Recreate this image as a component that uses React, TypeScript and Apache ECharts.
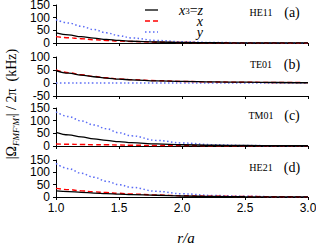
import React, { useEffect, useRef } from "react";
import * as echarts from "echarts";

const rValues = [1.0, 1.1, 1.2, 1.3, 1.4, 1.5, 1.6, 1.8, 2.0, 2.25, 2.5, 2.75, 3.0];

const aZ = [40, 32, 25, 19, 14, 10, 7, 4, 2, 1, 0.5, 0.3, 0.2];
const aX = [25, 21, 17, 13, 10, 8, 6, 3, 2, 1, 0.5, 0.3, 0.2];
const aY = [92, 79, 66, 53, 40, 29, 20, 10, 5, 2, 1, 0.5, 0.3];

const bZ = [48, 38, 30, 24, 19, 15, 12, 8, 6, 4, 3, 2, 1];
const bX = [50, 40, 32, 25, 20, 16, 13, 9, 6, 4, 3, 2, 1.5];
const bY = [0, 0, 0, 0, 0, 0, 0, 0, 0, 0, 0, 0, 0];

const cZ = [54, 44, 36, 28, 22, 17, 13, 8, 5, 3, 2, 1, 1];
const cX = [8, 7, 6, 5, 5, 4, 3, 2, 2, 1, 1, 1, 0.5];
const cY = [135, 116, 99, 83, 68, 52, 40, 22, 12, 5, 2, 1, 0.5];

const dZ = [25, 22, 19, 16, 14, 12, 10, 7, 4, 2, 1, 0.5, 0.3];
const dX = [35, 30, 25, 21, 18, 15, 12, 8, 5, 3, 2, 1, 0.5];
const dY = [136, 115, 96, 80, 64, 50, 39, 23, 13, 6, 3, 1, 0.5];

const panelModes = ["HE11", "TE01", "TM01", "HE21"];
const panelTags = ["(a)", "(b)", "(c)", "(d)"];
const yMins = [0, -50, 0, 0];
const yMaxs = [150, 100, 150, 150];
const xTicks = ["1.0", "1.5", "2.0", "2.5", "3.0"];

const panelData = [
  [aZ, aX, aY],
  [bZ, bX, bY],
  [cZ, cX, cY],
  [dZ, dX, dY],
];

const gridTops = [5, 57, 108, 160];
const gridHeights = [38, 39, 38, 37];

const SERIF = "'Liberation Serif', 'DejaVu Serif', serif";
const SANS = "'Liberation Sans', Arial, sans-serif";

export default function App() {
  const ref = useRef<HTMLDivElement>(null);
  useEffect(() => {
    if (!ref.current) return;
    const chart = echarts.init(ref.current, undefined, { renderer: "svg" });

    const grids = gridTops.map((t, i) => ({
      left: 56,
      right: 8,
      top: t,
      height: gridHeights[i],
      containLabel: false,
      outerBoundsMode: "none",
    }));

    const xAxes = gridTops.map((_, i) => ({
      type: "value",
      gridIndex: i,
      min: 1,
      max: 3,
      interval: 0.5,
      axisLine: { onZero: false, lineStyle: { color: "#000", width: 1 } },
      axisTick: { show: true, length: 3, inside: false, lineStyle: { color: "#000" } },
      axisLabel: {
        show: i === 3,
        margin: 5,
        color: "#000",
        fontFamily: SANS,
        fontSize: 12,
        showMinLabel: true,
        showMaxLabel: true,
        formatter: (v: number) => xTicks[Math.round((v - 1) / 0.5)] ?? "",
      },
      splitLine: { show: false },
    }));

    const yAxes = gridTops.map((_, i) => ({
      type: "value",
      gridIndex: i,
      min: yMins[i],
      max: yMaxs[i],
      interval: 50,
      axisLine: { show: true, lineStyle: { color: "#000", width: 1 } },
      axisTick: { show: true, length: 3, lineStyle: { color: "#000" } },
      axisLabel: { margin: 6, color: "#000", fontFamily: SANS, fontSize: 12, lineHeight: 11 },
      splitLine: { show: false },
    }));

    const styles = [
      { color: "#000000", type: "solid", width: 1.3 },
      { color: "#ff0000", type: [5, 3], width: 1.4 },
      { color: "#5b6cf5", type: [1.5, 2.5], width: 1.5 },
    ];
    const names = ["x3=z", "x", "y"];

    const series: any[] = [];
    panelData.forEach((set, pi) => {
      [2, 1, 0].forEach((si) => {
        series.push({
          type: "line",
          name: names[si],
          xAxisIndex: pi,
          yAxisIndex: pi,
          data: rValues.map((r, k) => [r, set[si][k]]),
          smooth: 0.4,
          smoothMonotone: "x",
          showSymbol: false,
          symbol: "none",
          lineStyle: styles[si],
          z: 3 - si,
        });
      });
    });

    const graphic: any[] = [];
    graphic.push({
      type: "text",
      x: 11,
      y: 104,
      rotation: Math.PI / 2,
      style: {
        text: "{a||Ω}{s|FMF'M'}{a|| / 2π  (kHz)}",
        align: "center",
        verticalAlign: "middle",
        fill: "#000",
        rich: {
          a: { fontFamily: SERIF, fontSize: 14, lineHeight: 18, fill: "#000" },
          s: {
            fontFamily: SERIF,
            fontSize: 9,
            fontStyle: "italic",
            lineHeight: 18,
            verticalAlign: "bottom",
            fill: "#000",
          },
        },
      },
    });
    graphic.push({
      type: "text",
      x: 186,
      y: 238,
      style: {
        text: "r/a",
        align: "center",
        verticalAlign: "middle",
        fontFamily: SERIF,
        fontStyle: "italic",
        fontSize: 15,
        fill: "#000",
      },
    });
    gridTops.forEach((t, i) => {
      graphic.push({
        type: "text",
        x: 261,
        y: t + 7,
        style: {
          text: panelModes[i],
          align: "center",
          verticalAlign: "middle",
          fontFamily: SERIF,
          fontSize: 10,
          fill: "#000",
        },
      });
      graphic.push({
        type: "text",
        x: 292,
        y: t + 7,
        style: {
          text: panelTags[i],
          align: "center",
          verticalAlign: "middle",
          fontFamily: SERIF,
          fontSize: 14,
          fill: "#000",
        },
      });
    });
    const legendYs = [10, 21, 32];
    const legendTexts = ["{i|x}{s|3}{n|=}{i|z}", "{i|x}", "{i|y}"];
    legendYs.forEach((ly, k) => {
      graphic.push({
        type: "line",
        shape: { x1: 145, y1: ly, x2: 158, y2: ly },
        style: {
          stroke: styles[k].color,
          lineWidth: styles[k].width,
          lineDash: styles[k].type === "solid" ? null : styles[k].type,
        },
      });
      graphic.push({
        type: "text",
        x: 203,
        y: ly,
        style: {
          text: legendTexts[k],
          align: "right",
          verticalAlign: "middle",
          fill: "#000",
          rich: {
            i: { fontFamily: SERIF, fontStyle: "italic", fontSize: 14, lineHeight: 11, fill: "#000" },
            n: { fontFamily: SERIF, fontSize: 14, lineHeight: 11, fill: "#000" },
            s: { fontFamily: SERIF, fontSize: 9, lineHeight: 11, verticalAlign: "bottom", fill: "#000" },
          },
        },
      });
    });

    chart.setOption({
      animation: false,
      grid: grids,
      xAxis: xAxes,
      yAxis: yAxes,
      series,
      graphic,
    });
    return () => chart.dispose();
  }, []);
  return (
    <div
      ref={ref}
      style={{ position: "absolute", left: 0, top: 0, width: 316, height: 249 }}
    />
  );
}
